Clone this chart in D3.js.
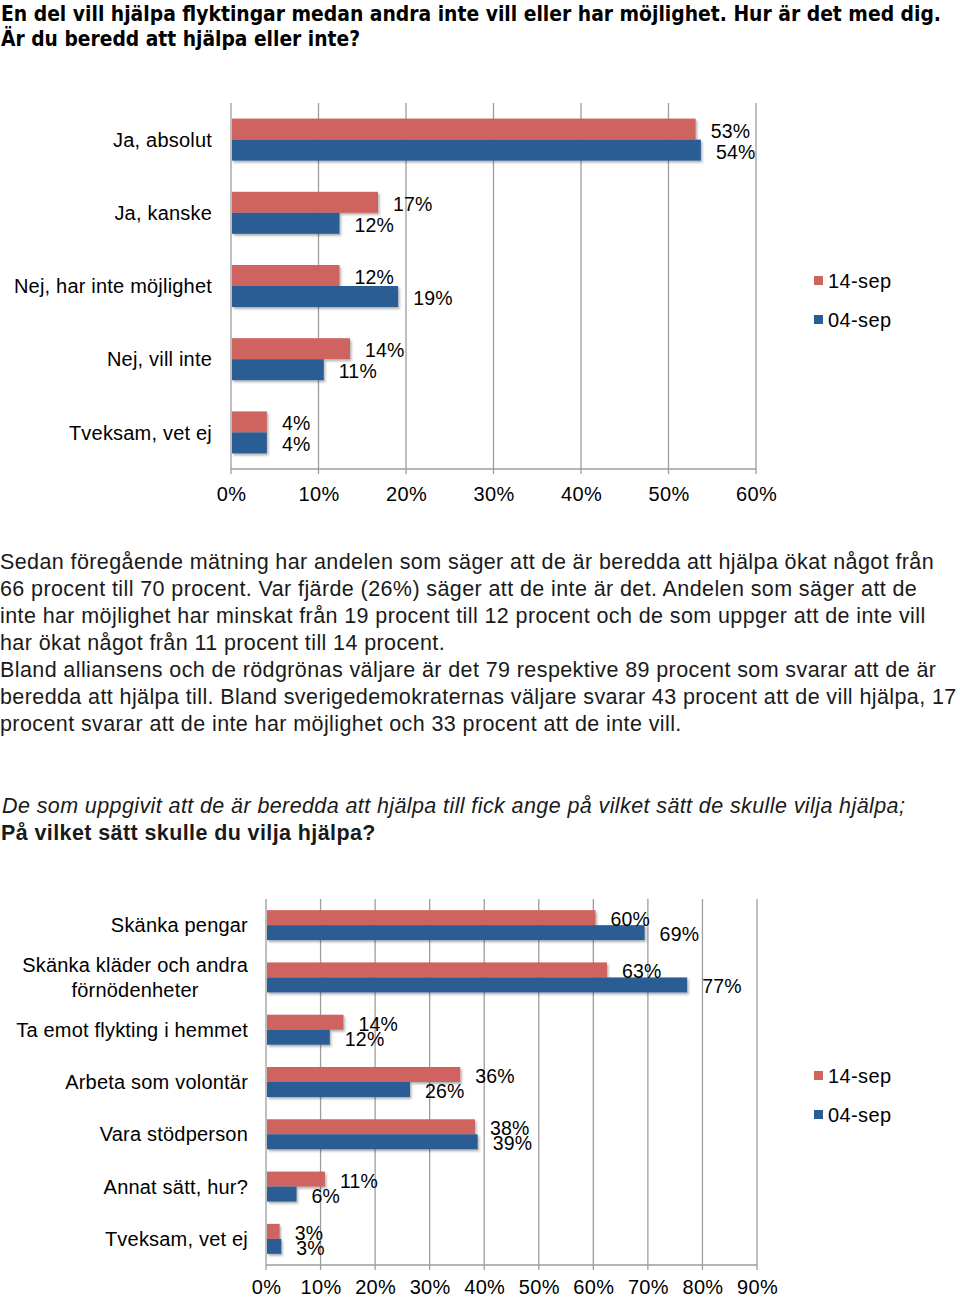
<!DOCTYPE html>
<html>
<head>
<meta charset="utf-8">
<script src="https://cdn.jsdelivr.net/npm/d3@7"></script>
<style>
  html, body { margin: 0; padding: 0; background: #fff; }
  svg { display: block; font-family: "Liberation Sans", Arial, Helvetica, sans-serif; }
</style>
</head>
<body>
<svg id="chart" width="960" height="1298"></svg>
<script>
// ---------- DATA ----------
const seriesNames = ["14-sep", "04-sep"];

const topCategories = ["Ja, absolut", "Ja, kanske", "Nej, har inte möjlighet", "Nej, vill inte", "Tveksam, vet ej"];
const top14sep = [53.1, 16.8, 12.4, 13.6, 4.1];
const top04sep = [53.7, 12.4, 19.1, 10.6, 4.1];
const topTicks = [0, 10, 20, 30, 40, 50, 60];

const botCategories = ["Skänka pengar", "Skänka kläder och andra|förnödenheter", "Ta emot flykting i hemmet", "Arbeta som volontär", "Vara stödperson", "Annat sätt, hur?", "Tveksam, vet ej"];
const bot14sep = [60.4, 62.5, 14.2, 35.6, 38.3, 10.8, 2.5];
const bot04sep = [69.4, 77.2, 11.7, 26.4, 38.8, 5.6, 2.8];
const botTicks = [0, 10, 20, 30, 40, 50, 60, 70, 80, 90];

const titleLines = ["En del vill hjälpa flyktingar medan andra inte vill eller har möjlighet.  Hur är det med dig.", "Är du beredd att hjälpa eller inte?"];
const paragraphLines = [
  "Sedan föregående mätning har andelen som säger att de är beredda att hjälpa ökat något från",
  "66 procent till 70 procent. Var fjärde (26%) säger att de inte är det. Andelen som säger att de",
  "inte har möjlighet har minskat från 19 procent till 12 procent och de som uppger att de inte vill",
  "har ökat något från 11 procent till 14 procent.",
  "Bland alliansens och de rödgrönas väljare är det 79 respektive 89 procent som svarar att de är",
  "beredda att hjälpa till. Bland sverigedemokraternas väljare svarar 43 procent att de vill hjälpa, 17",
  "procent svarar att de inte har möjlighet och 33 procent att de inte vill."
];
const subtitleItalic = "De som uppgivit att de är beredda att hjälpa till fick ange på vilket sätt de skulle vilja hjälpa;";
const subtitleBold = "På vilket sätt skulle du vilja hjälpa?";

// ---------- STYLE ----------
const colors = ["#CF645E", "#2A5D94"];
const gridColor = "#9d9d9d";

const svg = d3.select("#chart");

// drop shadow
const defs = svg.append("defs");
const f = defs.append("filter").attr("id", "shadow").attr("x", "-5%").attr("y", "-20%").attr("width", "120%").attr("height", "160%");
f.append("feDropShadow").attr("dx", 1.5).attr("dy", 2).attr("stdDeviation", 1.2).attr("flood-color", "#000").attr("flood-opacity", 0.3);

// ---------- TEXT ----------
svg.append("g").selectAll("text").data(titleLines).join("text")
  .attr("x", 1)
  .attr("y", (d, i) => 13 + i * 25)
  .attr("dy", "0.36em")
  .attr("font-family", "'Liberation Sans Narrow', 'DejaVu Sans Condensed', 'Liberation Sans', sans-serif")
  .attr("font-weight", "bold")
  .attr("font-size", 21)
  .attr("fill", "#000")
  .attr("textLength", (d, i) => i === 0 ? 940 : 359)
  .attr("lengthAdjust", "spacingAndGlyphs")
  .text(d => d);

const bodyFont = 21.5, bodySpacing = 0.4;
svg.append("g").selectAll("text").data(paragraphLines).join("text")
  .attr("x", 0)
  .attr("y", (d, i) => 561 + i * 27)
  .attr("dy", "0.36em")
  .attr("font-size", bodyFont)
  .attr("letter-spacing", bodySpacing)
  .attr("fill", "#1a1a1a")
  .text(d => d);

svg.append("text").attr("x", 2).attr("y", 805).attr("dy", "0.36em")
  .attr("font-size", bodyFont).attr("letter-spacing", bodySpacing)
  .attr("font-style", "italic").attr("fill", "#1a1a1a")
  .text(subtitleItalic);
svg.append("text").attr("x", 1).attr("y", 832).attr("dy", "0.36em")
  .attr("font-size", bodyFont).attr("letter-spacing", bodySpacing)
  .attr("font-weight", "bold").attr("fill", "#1a1a1a")
  .text(subtitleBold);

// ---------- CHART FUNCTION ----------
function drawChart(cfg) {
  const g = svg.append("g");
  const x = d3.scaleLinear().domain([0, d3.max(cfg.ticks)]).range([cfg.x0, cfg.x1]);
  const y = d3.scaleBand().domain(cfg.categories).range([cfg.top, cfg.bottom]).paddingInner(0.426).paddingOuter(0.213);
  const ys = d3.scaleBand().domain(seriesNames).range([0, y.bandwidth()]);

  // gridlines
  g.append("g").selectAll("line").data(cfg.ticks).join("line")
    .attr("x1", d => x(d)).attr("x2", d => x(d))
    .attr("y1", cfg.top).attr("y2", cfg.bottom + 5)
    .attr("stroke", gridColor).attr("stroke-width", 1.3);
  // baseline
  g.append("line").attr("x1", x(0)).attr("x2", x(d3.max(cfg.ticks)))
    .attr("y1", cfg.bottom).attr("y2", cfg.bottom)
    .attr("stroke", gridColor).attr("stroke-width", 1.3);

  // tick labels via axis
  const ax = g.append("g").attr("transform", `translate(0,${cfg.bottom})`)
    .call(d3.axisBottom(x).tickValues(cfg.ticks).tickFormat(d => d + "%").tickSize(0).tickPadding(cfg.tickPad));
  ax.select(".domain").remove();
  ax.selectAll("text").attr("font-size", 20).attr("letter-spacing", 0.3).attr("fill", "#000")
    .attr("font-family", "'Liberation Sans', Arial, sans-serif");

  const rows = cfg.categories.map((c, i) => ({ c, vals: [cfg.s1[i], cfg.s2[i]] }));
  const rowG = g.append("g").selectAll("g").data(rows).join("g")
    .attr("transform", d => `translate(0,${y(d.c)})`);

  rowG.selectAll("rect").data(d => d.vals.map((v, k) => ({ v, k }))).join("rect")
    .attr("x", x(0) + 1)
    .attr("y", d => ys(seriesNames[d.k]))
    .attr("width", d => x(d.v) - x(0) - 1)
    .attr("height", ys.bandwidth())
    .attr("fill", d => colors[d.k])
    .attr("filter", "url(#shadow)");

  rowG.selectAll("text.val").data(d => d.vals.map((v, k) => ({ v, k }))).join("text")
    .attr("class", "val")
    .attr("x", d => x(d.v) + 15)
    .attr("y", d => ys(seriesNames[d.k]) + ys.bandwidth() / 2 + 1.5)
    .attr("dy", "0.36em")
    .attr("font-size", 19.5)
    .attr("letter-spacing", 0.2)
    .attr("fill", "#000")
    .text(d => Math.round(d.v) + "%");

  // category labels
  g.append("g").selectAll("g").data(cfg.categories).join("g")
    .each(function (c) {
      const lines = c.split("|");
      const cy = y(c) + y.bandwidth() / 2;
      const lh = 25;
      const grp = d3.select(this);
      const texts = grp.selectAll("text").data(lines).join("text")
        .attr("y", (d, i) => cy + (i - (lines.length - 1) / 2) * lh)
        .attr("dy", "0.36em")
        .attr("font-size", 20)
        .attr("letter-spacing", 0.2)
        .attr("fill", "#000")
        .text(d => d);
      if (lines.length === 1) {
        texts.attr("x", cfg.labelRight).attr("text-anchor", "end");
      } else {
        let maxW = 0;
        texts.each(function () { maxW = Math.max(maxW, this.getComputedTextLength()); });
        texts.attr("x", cfg.labelRight - maxW / 2).attr("text-anchor", "middle");
      }
    });

  // legend
  const lg = g.append("g").selectAll("g").data(seriesNames).join("g")
    .attr("transform", (d, i) => `translate(${cfg.legendX},${cfg.legendY + i * 39})`);
  lg.append("rect").attr("x", 0).attr("y", -5).attr("width", 9).attr("height", 9)
    .attr("fill", (d, i) => colors[i]);
  lg.append("text").attr("x", 14).attr("y", 0).attr("dy", "0.36em")
    .attr("font-size", 20).attr("letter-spacing", 0.4).attr("fill", "#000").text(d => d);
}

drawChart({
  categories: topCategories, s1: top14sep, s2: top04sep, ticks: topTicks,
  x0: 231, x1: 756, top: 103, bottom: 469, tickPad: 18,
  labelRight: 212, legendX: 814, legendY: 281
});

drawChart({
  categories: botCategories, s1: bot14sep, s2: bot04sep, ticks: botTicks,
  x0: 266, x1: 757, top: 899, bottom: 1265, tickPad: 15,
  labelRight: 248, legendX: 814, legendY: 1076
});
</script>
</body>
</html>
